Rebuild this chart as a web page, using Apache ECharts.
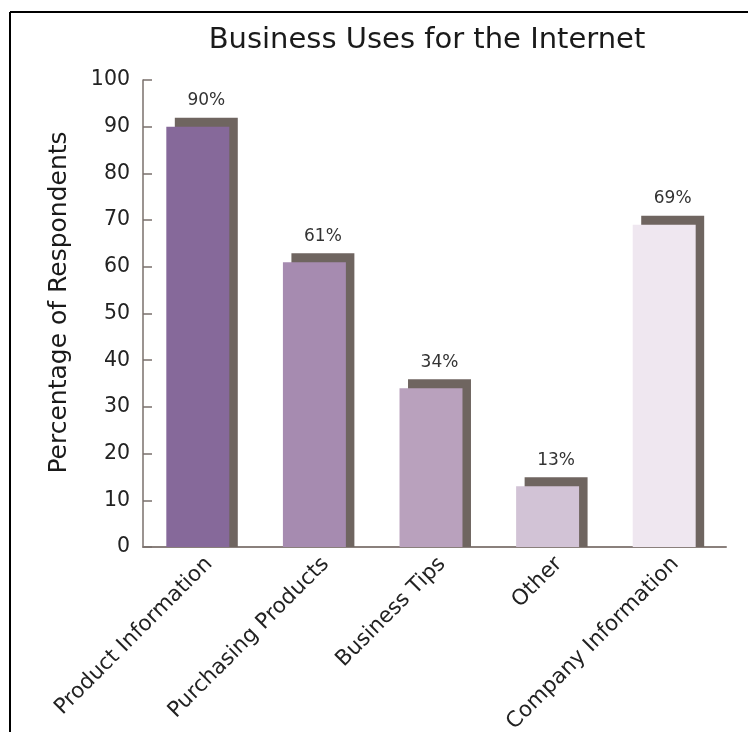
<!DOCTYPE html>
<html>
<head>
<meta charset="utf-8">
<script src="https://cdn.jsdelivr.net/npm/echarts@6/dist/echarts.min.js"></script>
<style>html,body{margin:0;padding:0;background:#fff;}#chart{width:748px;height:732px;}</style>
</head>
<body>
<div id="chart"></div>
<script>
const categories = ['Product Information', 'Purchasing Products', 'Business Tips', 'Other', 'Company Information'];
const values = [90, 61, 34, 13, 69];
const barColors = ['#86699a', '#a68bb0', '#b9a1bd', '#d2c3d6', '#efe7f0'];
const yTicks = [0, 10, 20, 30, 40, 50, 60, 70, 80, 90, 100];

const FONT = 'DejaVu Sans';
const shadowColor = '#6f6560';

const chart = echarts.init(document.getElementById('chart'), null, {renderer: 'canvas'});
chart.setOption({
  animation: false,
  backgroundColor: '#ffffff',
  title: {
    text: 'Business Uses for the Internet',
    left: 422, top: 21, textAlign: 'center',
    textStyle: {fontFamily: FONT, fontSize: 29, fontWeight: 'normal', color: '#1a1a1a'}
  },
  graphic: [
    {type: 'line', shape: {x1: 10, y1: 12, x2: 10, y2: 732}, style: {stroke: '#000', lineWidth: 2}},
    {type: 'line', shape: {x1: 10, y1: 12, x2: 748, y2: 12}, style: {stroke: '#000', lineWidth: 2}}
  ],
  grid: {left: 143, right: 22, top: 80, bottom: 185, containLabel: false, outerBoundsMode: 'none'},
  xAxis: {
    type: 'category',
    data: categories,
    axisLine: {lineStyle: {color: '#8a807c', width: 2}},
    axisTick: {show: false},
    axisLabel: {rotate: 45, margin: 6, verticalAlign: 'top', fontFamily: FONT, fontSize: 21.5, color: '#222'}
  },
  yAxis: {
    type: 'value',
    min: yTicks[0], max: yTicks[yTicks.length - 1], interval: 10,
    name: 'Percentage of Respondents',
    nameLocation: 'middle', nameGap: 71, nameRotate: 90,
    nameTextStyle: {fontFamily: FONT, fontSize: 25, color: '#1a1a1a', padding: [0, 0, 0, 22]},
    axisLine: {show: true, lineStyle: {color: '#7a706c', width: 1.5}},
    axisTick: {show: true, inside: true, length: 9, lineStyle: {color: '#7a706c', width: 1.5}},
    axisLabel: {margin: 13, fontFamily: FONT, fontSize: 20.5, color: '#222'},
    splitLine: {show: false}
  },
  series: [{
    type: 'custom',
    data: values.map((v, i) => [i, v]),
    encode: {x: 0, y: 1},
    renderItem: function (params, api) {
      const idx = api.value(0);
      const v = api.value(1);
      const top = api.coord([idx, v]);
      const base = api.coord([idx, 0]);
      const band = api.size([1, 0])[0];
      const w = band * 0.54;
      const fx = top[0] - 3.5 - w / 2;
      const sx = fx + 8.5;
      return {
        type: 'group',
        children: [
          {type: 'rect', shape: {x: sx, y: top[1] - 9, width: w, height: base[1] - top[1] + 9}, style: {fill: shadowColor}},
          {type: 'rect', shape: {x: fx, y: top[1], width: w, height: base[1] - top[1]}, style: {fill: barColors[params.dataIndex]}},
          {type: 'text', style: {text: v + '%', x: sx + w / 2, y: top[1] - 26, align: 'center', verticalAlign: 'middle', fontFamily: FONT, fontSize: 17, fill: '#333'}}
        ]
      };
    }
  }]
});
</script>
</body>
</html>
